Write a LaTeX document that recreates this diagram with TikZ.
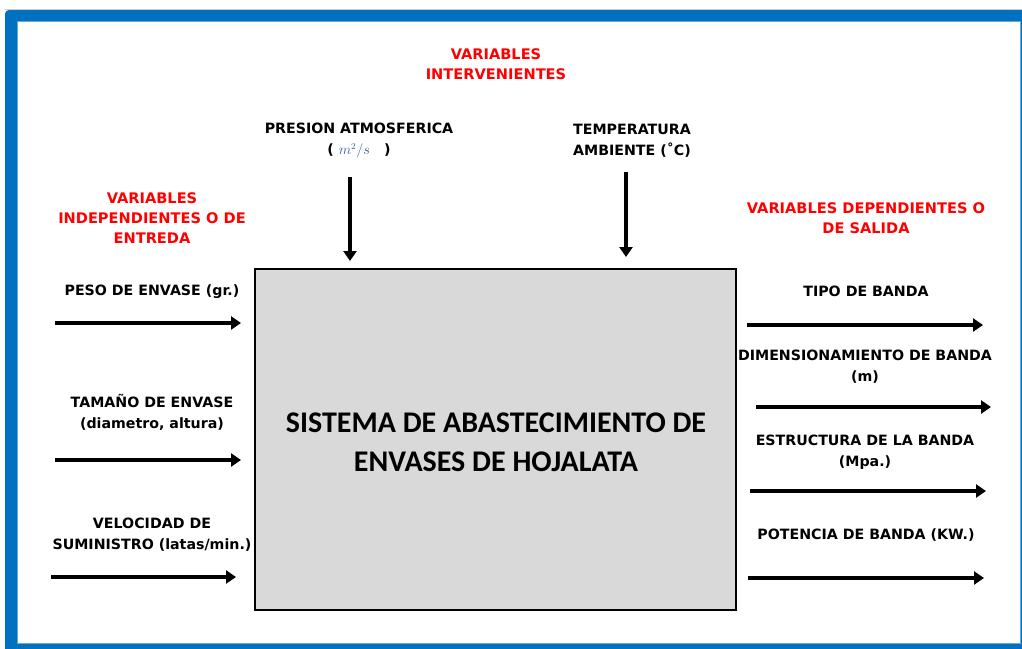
\documentclass[tikz,border=0pt]{standalone}
\usepackage{fontspec}
\setmainfont{DejaVu Sans}
\newfontfamily\titlefont{Carlito}
\usetikzlibrary{arrows.meta}
\definecolor{frameblue}{HTML}{0070C0}
\definecolor{boxgray}{HTML}{D9D9D9}
\definecolor{varred}{HTML}{FF0000}
\definecolor{mathblue}{HTML}{3C5A9A}
\tikzset{
  lbl/.style={align=center, inner sep=0pt, font=\bfseries\fontsize{14.2}{21}\selectfont, text=black},
  redlbl/.style={lbl, text=varred, font=\bfseries\fontsize{14.6}{20}\selectfont},
  flow/.style={line width=4.2pt, -{Triangle[length=10pt,width=13pt]}},
  sysbox/.style={draw=black, line width=2.2pt, fill=boxgray}
}
\begin{document}
\begin{tikzpicture}[x=1pt,y=-1pt]
\useasboundingbox (0,0) rectangle (1022,648);
% frame
\fill[white] (0,0) rectangle (1022,648);
\draw[gray!40, line width=0.8pt] (5,9) -- (1022,9);
\fill[frameblue, rounded corners=4pt] (5,10) rectangle (1030,660);
\fill[white] (17,21.5) rectangle (1020.5,643);
\draw[frameblue!60, line width=0.6pt] (17,21.5) rectangle (1020.5,643);
% system box
\node[sysbox, minimum width=481pt, minimum height=341pt, inner sep=0pt] (sys) at (495.5,439.5) {};
\node[font=\titlefont\bfseries\fontsize{30}{39}\selectfont, align=center, inner sep=0pt] (systxt) at (496,442.5)
  {SISTEMA DE ABASTECIMIENTO DE\\ENVASES DE HOJALATA};
% titles
\node[redlbl] (tint) at (496,64) {VARIABLES\\INTERVENIENTES};
\node[redlbl] (tind) at (152,218) {VARIABLES\\INDEPENDIENTES O DE\\ENTREDA};
\node[redlbl] (tdep) at (866,218) {VARIABLES DEPENDIENTES O\\DE SALIDA};
% top labels
\node[lbl] (pres) at (359,141) {PRESION ATMOSFERICA\\( {\color{mathblue}\normalfont\fontsize{13.5}{14}\selectfont$m^{2}/s$}\hspace{14pt})};
\node[lbl] (temp) at (632,141) {TEMPERATURA\\AMBIENTE (˚C)};
% left labels
\node[lbl] (peso) at (152,292) {PESO DE ENVASE (gr.)};
\node[lbl] (tam) at (152,412.5) {TAMAÑO DE ENVASE\\(diametro, altura)};
\node[lbl] (vel) at (152,534.5) {VELOCIDAD DE\\SUMINISTRO (latas/min.)};
% right labels
\node[lbl] (tipo) at (866,291) {TIPO DE BANDA};
\node[lbl] (dim) at (865,367) {DIMENSIONAMIENTO DE BANDA\\(m)};
\node[lbl] (est) at (865,452.5) {ESTRUCTURA DE LA BANDA\\(Mpa.)};
\node[lbl] (pot) at (866,535) {POTENCIA DE BANDA (KW.)};
% arrow endpoints
\coordinate (a1s) at (55,323);  \coordinate (a1e) at (241,323);
\coordinate (a2s) at (55,460);  \coordinate (a2e) at (241,460);
\coordinate (a3s) at (51,577);  \coordinate (a3e) at (236,577);
\coordinate (b1s) at (747,325); \coordinate (b1e) at (983,325);
\coordinate (b2s) at (756,407); \coordinate (b2e) at (991,407);
\coordinate (b3s) at (750,491); \coordinate (b3e) at (986,491);
\coordinate (b4s) at (748,578); \coordinate (b4e) at (984,578);
\coordinate (t1s) at (350,177); \coordinate (t1e) at (350,261);
\coordinate (t2s) at (626,172); \coordinate (t2e) at (626,257);
\draw[flow] (a1s) -- (a1e);
\draw[flow] (a2s) -- (a2e);
\draw[flow] (a3s) -- (a3e);
\draw[flow] (b1s) -- (b1e);
\draw[flow] (b2s) -- (b2e);
\draw[flow] (b3s) -- (b3e);
\draw[flow] (b4s) -- (b4e);
\draw[flow] (t1s) -- (t1e);
\draw[flow] (t2s) -- (t2e);
\end{tikzpicture}
\end{document}
